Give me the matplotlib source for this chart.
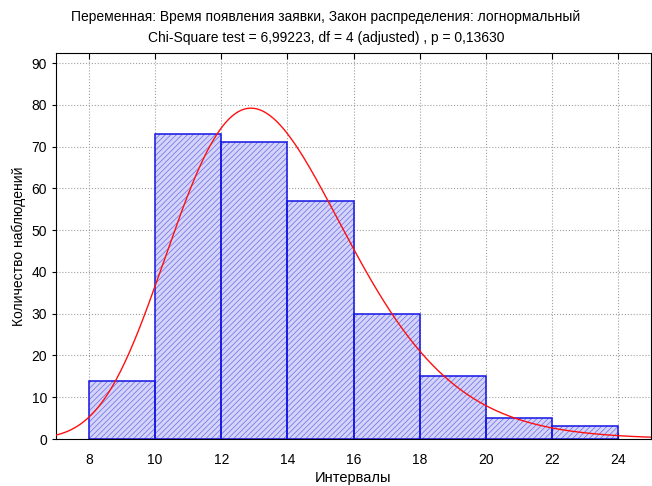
import matplotlib
matplotlib.use('Agg')
import matplotlib.pyplot as plt
import numpy as np

# histogram data
bin_edges = [8, 10, 12, 14, 16, 18, 20, 22, 24]
counts = [14, 73, 71, 57, 30, 15, 5, 3]

# fitted lognormal parameters
LN_MU = 2.599
LN_SIGMA = 0.205

x_ticks = [8, 10, 12, 14, 16, 18, 20, 22, 24]
y_ticks = [0, 10, 20, 30, 40, 50, 60, 70, 80, 90]

title_lines = ["Переменная: Время появления заявки, Закон распределения: логнормальный",
               "Chi-Square test = 6,99223, df = 4 (adjusted) , p = 0,13630"]
x_label = "Интервалы"
y_label = "Количество наблюдений"

plt.rcParams['font.family'] = ['Liberation Sans', 'DejaVu Sans']
plt.rcParams['hatch.linewidth'] = 0.5


def lognorm_counts(x):
    n = sum(counts)
    width = bin_edges[1] - bin_edges[0]
    pdf = np.exp(-(np.log(x) - LN_MU) ** 2 / (2 * LN_SIGMA ** 2)) / (x * LN_SIGMA * np.sqrt(2 * np.pi))
    return n * width * pdf


fig = plt.figure(figsize=(6.52, 4.86), dpi=100)
ax = fig.add_axes([56 / 652, 1 - 439 / 486, 595 / 652, 386 / 486])

lefts = bin_edges[:-1]
widths = np.diff(bin_edges)
# hatched fill, then the blue outlines on top
ax.bar(lefts, counts, widths, align='edge', facecolor='#d4d4f8', edgecolor='#6a6aea',
       hatch='//////', linewidth=0, zorder=2)
ax.bar(lefts, counts, widths, align='edge', fill=False, edgecolor='#1414e6',
       linewidth=1.1, zorder=2.5)

xs = np.linspace(7, 25, 400)
ax.plot(xs, lognorm_counts(xs), color='#ff1010', linewidth=1.0, zorder=3)

ax.set_xlim(7, 25)
ax.set_ylim(0, 92.4)
ax.set_xticks(x_ticks)
ax.set_yticks(y_ticks)
ax.grid(True, linestyle=':', color='#a0a0a0', linewidth=0.8, zorder=0)
ax.set_axisbelow(True)
ax.tick_params(axis='both', labelsize=10, direction='in', length=4, top=True, right=True)
ax.tick_params(axis='x', pad=10)
ax.tick_params(axis='y', direction='out', length=3)

ax.set_xlabel(x_label, fontsize=10.5, labelpad=3)
ax.set_ylabel(y_label, fontsize=10, labelpad=4)
fig.text(0.5, 1 - 17 / 486, title_lines[0], ha='center', va='center', fontsize=10)
fig.text(0.5, 1 - 38 / 486, title_lines[1], ha='center', va='center', fontsize=10)

fig.savefig('out.png', dpi=100)
